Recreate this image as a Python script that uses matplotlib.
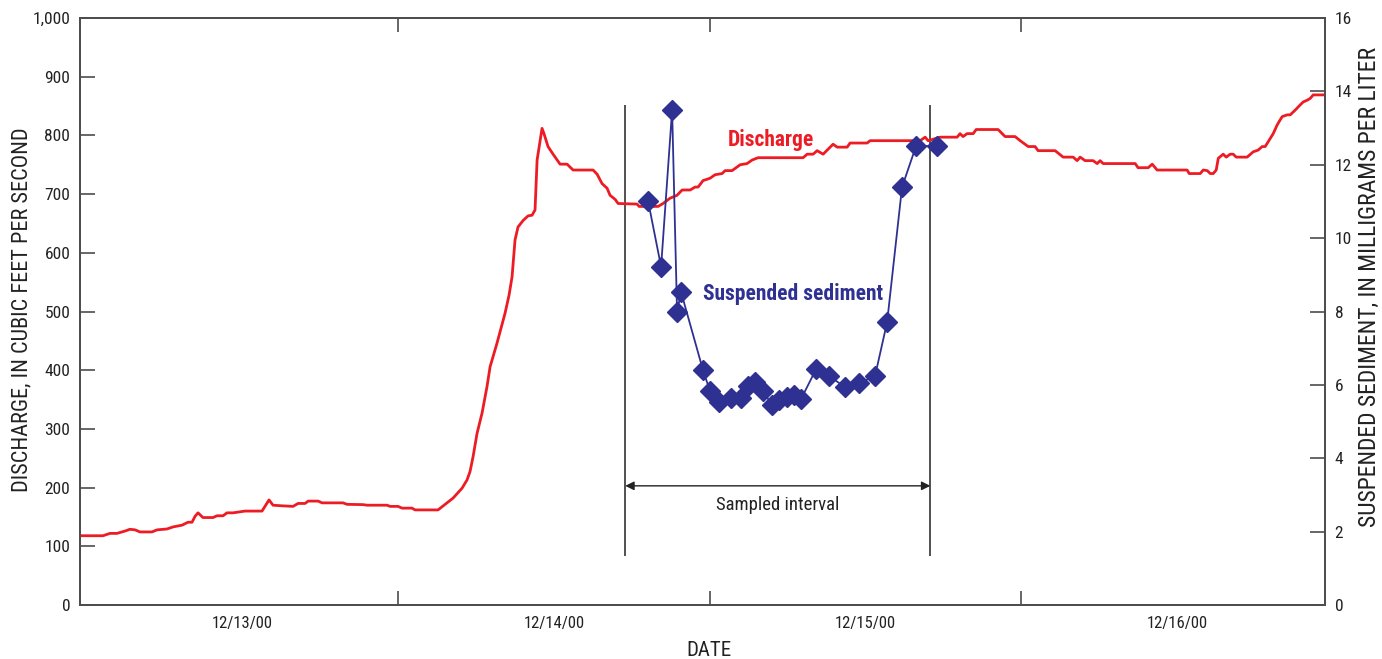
import matplotlib
matplotlib.use("Agg")
import matplotlib.pyplot as plt

# ---- data (hours since 12/13/00 00:00) ----
q_hours = [-0.50, 1.27, 1.81, 2.35, 2.97, 3.35, 3.74, 4.12, 5.05, 5.43, 6.20, 6.66, 7.36, 7.82,
           8.13, 8.36, 8.59, 8.97, 9.75, 10.05, 10.52, 10.82, 11.29, 12.21, 13.52, 14.06, 14.37,
           15.06, 15.91, 16.30, 16.84, 17.07, 17.84, 18.15, 19.76, 20.07, 21.30, 21.61, 23.15,
           23.38, 24.00, 24.31, 25.08, 25.31, 27.08, 27.77, 28.23, 28.93, 29.31, 29.54, 29.78,
           30.08, 30.47, 30.85, 31.09, 31.62, 32.24, 32.55, 32.78, 33.01, 33.24, 33.63, 34.02,
           34.32, 34.55, 34.71, 35.09, 35.24, 35.55, 35.94, 36.48, 37.02, 37.48, 39.02, 39.33,
           39.71, 40.10, 40.33, 40.72, 40.95, 42.41, 42.57, 44.03, 44.41, 44.95, 45.49, 45.88,
           46.50, 46.88, 47.11, 47.49, 48.03, 48.42, 48.96, 49.19, 49.73, 50.35, 50.88, 51.27,
           51.73, 55.20, 55.51, 55.97, 56.28, 56.74, 57.51, 57.82, 58.59, 58.82, 60.13, 60.36,
           64.21, 64.60, 64.83, 65.75, 67.06, 67.29, 67.52, 67.83, 68.30, 68.53, 70.22, 70.76,
           71.53, 71.92, 72.54, 73.07, 73.30, 74.61, 75.23, 76.00, 76.31, 76.54, 76.92, 77.54,
           77.85, 78.08, 78.31, 80.78, 81.00, 81.78, 82.09, 82.47, 84.78, 84.94, 85.79, 86.02,
           86.33, 86.56, 86.79, 87.02, 87.18, 87.56, 87.79, 88.10, 88.33, 88.56, 89.40, 89.87,
           90.25, 90.56, 90.79, 91.02, 91.41, 91.72, 92.10, 92.49, 92.72, 93.10, 93.49, 93.72,
           94.03, 94.26, 94.49, 95.34]
q_cfs = [118, 118, 122, 122, 126, 129, 128, 124.5, 124.5, 128, 129.5, 133, 136, 141,
         141, 151, 157, 149, 149, 152, 152, 157, 157, 160, 160, 179, 170,
         169, 168, 173, 173, 177, 177, 174, 174, 171.5, 171, 170, 170,
         168, 168, 165, 165, 162, 162, 174, 182, 199, 213, 227, 253,
         292, 327, 372, 406, 446, 497, 528, 559, 622, 644, 655, 663,
         664, 673, 758, 812, 803, 781, 768, 751, 751, 741, 741, 734,
         718, 710, 698, 691, 684, 683, 679, 679, 684, 693, 698, 707,
         707, 712, 712, 723, 727, 733, 735, 740, 740, 750, 752, 758,
         762, 762, 768, 768, 774, 768, 785, 780, 780, 787, 787, 791,
         791, 797, 791, 797, 797, 803, 798, 803, 803, 810, 810, 798,
         798, 791, 781, 781, 774, 774, 763, 763, 757, 763, 757, 757,
         752, 757, 752, 752, 745, 745, 751, 741, 741, 735, 735, 741,
         740, 735, 735, 741, 761, 768, 763, 768, 768, 763, 763, 772,
         775, 781, 781, 789, 803, 818, 832, 835, 835, 843, 852, 857,
         860, 863, 869, 869]

ssc_hours = [43.26, 44.26, 45.11, 45.49, 45.80, 47.49, 48.03, 48.73, 49.65, 50.42, 50.96,
             51.50, 52.11, 52.81, 53.35, 53.96, 54.51, 55.05, 56.20, 57.20, 58.43, 59.51,
             60.74, 61.67, 62.82, 63.90, 65.50]
ssc_mgl = [11.01, 9.22, 13.49, 7.99, 8.53, 6.40, 5.83, 5.54, 5.64, 5.64, 5.97,
           6.08, 5.83, 5.45, 5.59, 5.67, 5.72, 5.62, 6.43, 6.24, 5.94, 6.05,
           6.24, 7.71, 11.39, 12.51, 12.51]

sample_start, sample_end = 41.5, 65.0
day_ticks = [24, 48, 72]
label_pos = [12, 36, 60, 84]
date_labels = ["12/13/00", "12/14/00", "12/15/00", "12/16/00"]
left_ticks = list(range(0, 1001, 100))
right_ticks = list(range(0, 17, 2))

RED = "#ED1C24"
NAVY = "#2E3192"
SPINE = "#4d4d4d"
TXT = "#222222"
plt.rcParams["font.family"] = ["Roboto Condensed", "Roboto", "DejaVu Sans"]

W, H = 1382, 659
fig = plt.figure(figsize=(W / 100, H / 100), dpi=100)
ax = fig.add_axes([80 / W, 54 / H, 1245 / W, 587 / H])
ax2 = ax.twinx()

ax.plot(q_hours, q_cfs, color=RED, lw=2.0, zorder=3)
ax2.plot(ssc_hours, ssc_mgl, color=NAVY, lw=1.3, marker="D", ms=10.5,
         mfc=NAVY, mec=NAVY, zorder=4)

ax.set_xlim(-0.5, 95.4)
ax.set_ylim(0, 1000)
ax2.set_ylim(0, 16)

ax.set_yticks(left_ticks)
ax.set_yticklabels([f"{v:,}" for v in left_ticks])
ax2.set_yticks(right_ticks)
ax.set_xticks(day_ticks)
ax.set_xticklabels([])
ax.set_xticks(label_pos, minor=True)
ax.set_xticklabels(date_labels, minor=True)

for a in (ax, ax2):
    for s in a.spines.values():
        s.set_color(SPINE)
        s.set_linewidth(1.3)

ax.tick_params(axis="x", which="major", direction="in", length=10, width=1.2,
               color=SPINE, top=True, bottom=True)
ax.tick_params(axis="x", which="minor", length=0, labelsize=12, pad=8, colors=TXT)
ax.tick_params(axis="y", direction="in", length=11, width=1.2, color=SPINE,
               labelsize=12.5, labelcolor=TXT, pad=7)
ax2.tick_params(axis="y", direction="in", length=11, width=1.2, color=SPINE,
                labelsize=12.5, labelcolor=TXT, pad=7)

fig.text(22 / W, 1 - 310 / H, "DISCHARGE, IN CUBIC FEET PER SECOND", rotation=90,
         ha="center", va="center", fontsize=16, color=TXT)
fig.text(1369 / W, 1 - 287 / H, "SUSPENDED SEDIMENT, IN MILLIGRAMS PER LITER", rotation=90,
         ha="center", va="center", fontsize=17, color=TXT)
fig.text(709 / W, 1 - 651 / H, "DATE", ha="center", va="center", fontsize=15, color=TXT)

# sampled interval markers
ax.vlines([sample_start, sample_end], 83.5, 852, color=TXT, lw=1.1, zorder=2)
ax.annotate("", xy=(sample_start, 203), xytext=(sample_end, 203),
            arrowprops=dict(arrowstyle="<|-|>", color=TXT, lw=1.0,
                            shrinkA=0, shrinkB=0, mutation_scale=13))
ax.text((sample_start + sample_end) / 2, 170, "Sampled interval", ha="center",
        va="center", fontsize=13.5, color=TXT)

ax.text(52.7, 792, "Discharge", ha="center", va="center", fontsize=15.5,
        fontweight="bold", color=RED)
ax.text(54.4, 530, "Suspended sediment", ha="center", va="center", fontsize=15.5,
        fontweight="bold", color=NAVY)

fig.savefig("out.png", dpi=100)
